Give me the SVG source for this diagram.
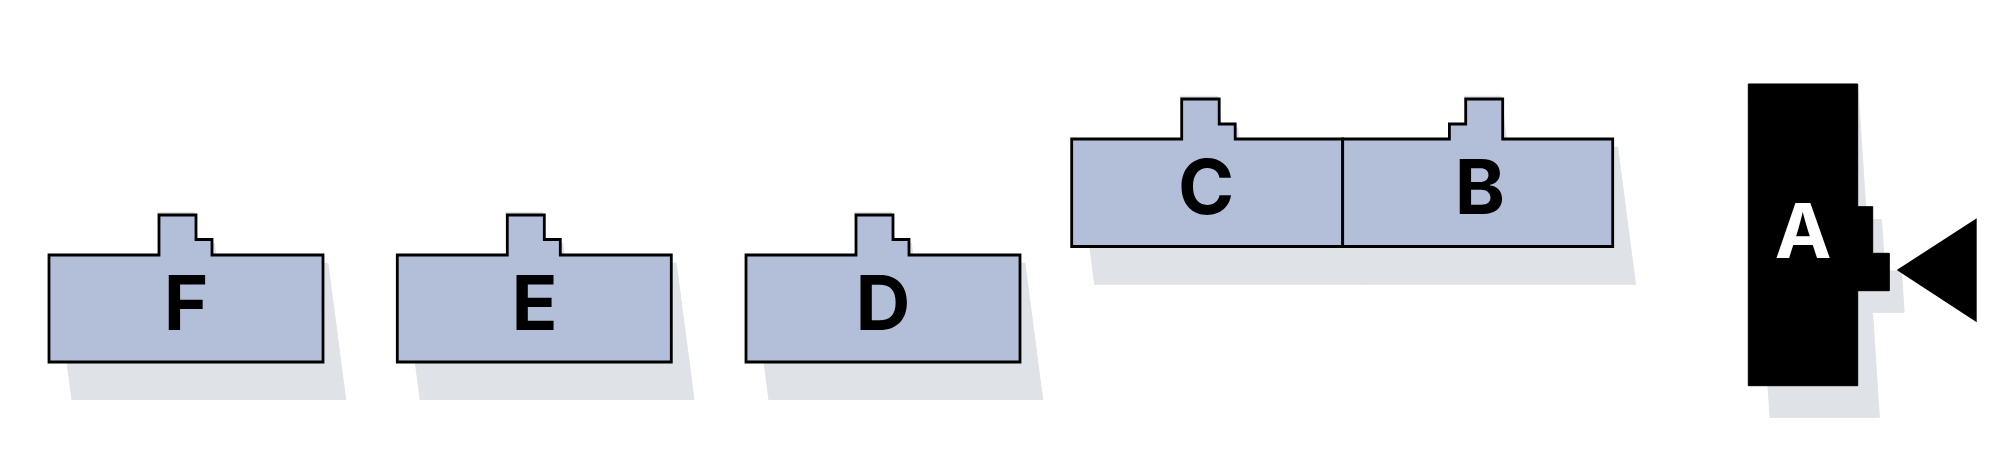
<svg xmlns="http://www.w3.org/2000/svg" width="2000" height="458" viewBox="0 0 2000 458">
  <style>
    .body { fill: #b3bed8; stroke: #000; stroke-width: 2.8; stroke-linejoin: miter; }
    .shadow { fill: #dfe2e6; stroke: #dfe2e6; stroke-width: 0.8; }
    .lbl { font-family: "Inter", "Liberation Sans", sans-serif; font-weight: 700; font-size: 76px; fill: #000; text-anchor: middle; }
    .lblw { fill: #fff; }
    .dark { fill: #000; stroke: #000; stroke-width: 1; }
  </style>
  <defs>
    <path id="piece" d="M0,0 H110 V-40 H147 V-15.5 H163 V0 H274 V107 H0 Z"/>
    <path id="pieceC" d="M0,0 H110 V-40 H147.5 V-15 H163.5 V0 H271 V107.5 H0 Z"/>
    <path id="pieceB" d="M0,0 H106.7 V-15 H123 V-40 H160 V0 H270 V107.5 H0 Z"/>
    <path id="pieceA" d="M0,0 H109.4 V122.7 H124.4 V169.3 H141 V206.7 H109.4 V301.7 H0 Z"/>
  </defs>

  <g id="shadows">
    <use href="#piece" class="shadow" transform="translate(49,255) matrix(1 0 0.1664 1.2745 4.99 8.235)"/>
    <use href="#piece" class="shadow" transform="translate(397.3,255) matrix(1 0 0.1664 1.2745 4.99 8.235)"/>
    <use href="#piece" class="shadow" transform="translate(746,255) matrix(1 0 0.1664 1.2745 4.99 8.235)"/>
    <use href="#pieceC" class="shadow" transform="translate(1071.7,139) matrix(1 0 0.1664 1.2745 4.99 8.235)"/>
    <use href="#pieceB" class="shadow" transform="translate(1342.7,139) matrix(1 0 0.1664 1.2745 4.99 8.235)"/>
    <use href="#pieceA" class="shadow" transform="translate(1748.3,84) matrix(1 0 0.072 1.105 0 0)"/>
  </g>

  <g id="node-F">
    <use href="#piece" class="body" transform="translate(49,255)"/>
    <text class="lbl" x="186" y="330">F</text>
  </g>
  <g id="node-E">
    <use href="#piece" class="body" transform="translate(397.3,255)"/>
    <text class="lbl" x="534.5" y="330">E</text>
  </g>
  <g id="node-D">
    <use href="#piece" class="body" transform="translate(746,255)"/>
    <text class="lbl" x="883" y="330">D</text>
  </g>
  <g id="node-C">
    <use href="#pieceC" class="body" transform="translate(1071.7,139)"/>
    <text class="lbl" x="1206" y="214.3">C</text>
  </g>
  <g id="node-B">
    <use href="#pieceB" class="body" transform="translate(1342.7,139)"/>
    <text class="lbl" x="1480" y="214.3">B</text>
  </g>
  <g id="node-A">
    <use href="#pieceA" class="dark" transform="translate(1748.3,84)"/>
    <text class="lbl lblw" x="1803" y="257.7">A</text>
  </g>

  <g id="connectors">
    <polygon points="1896.7,270 1976.7,218.3 1976.7,322.3" fill="#000"/>
  </g>
</svg>
